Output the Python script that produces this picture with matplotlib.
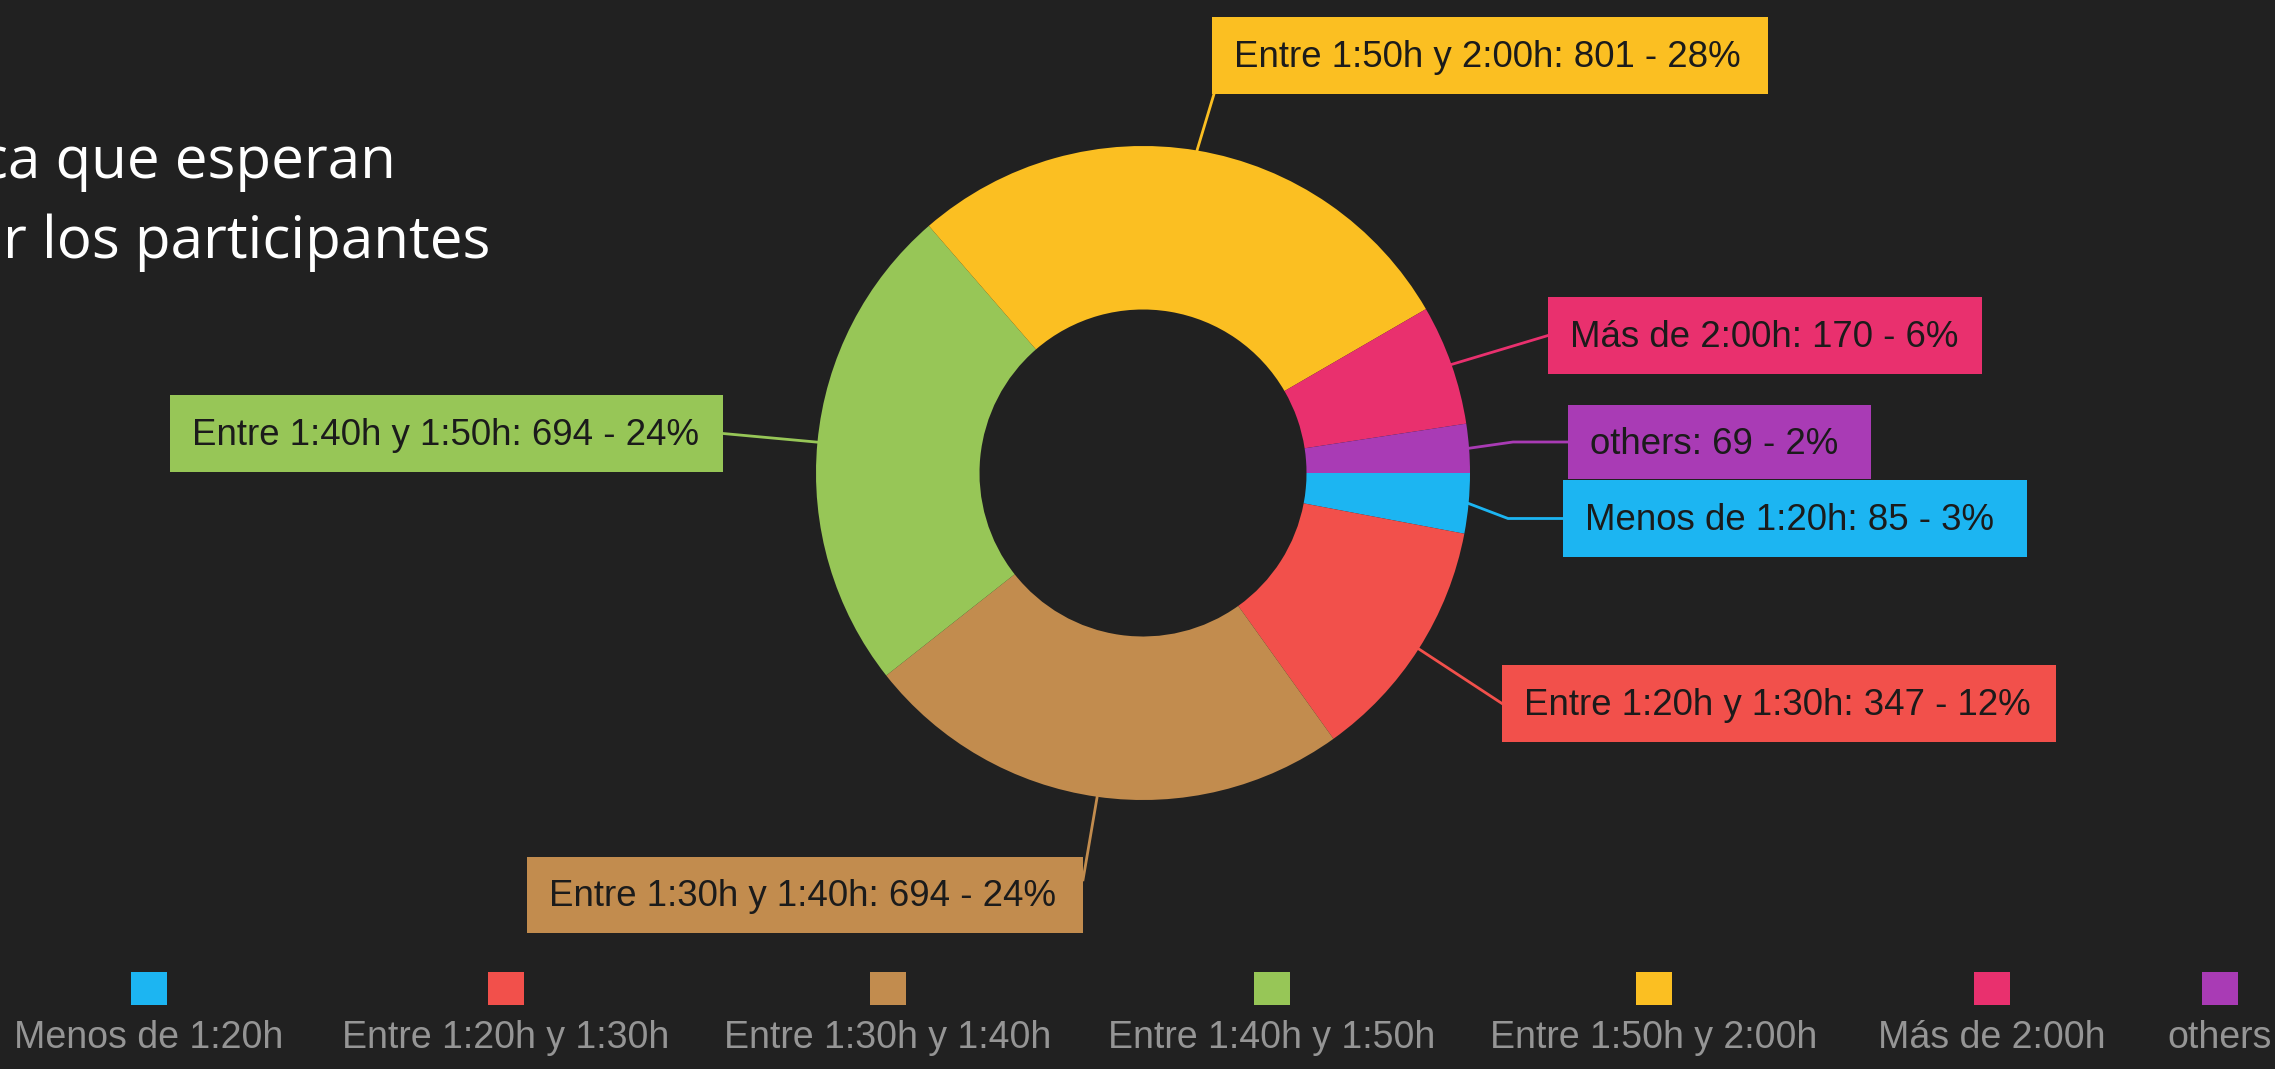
import matplotlib
matplotlib.use("Agg")
import matplotlib.pyplot as plt
from matplotlib.patches import Rectangle
import numpy as np

# Data
categories = ["Menos de 1:20h", "Entre 1:20h y 1:30h", "Entre 1:30h y 1:40h",
              "Entre 1:40h y 1:50h", "Entre 1:50h y 2:00h", "Más de 2:00h", "others"]
values = [85, 347, 694, 694, 801, 170, 69]
percents = ["3%", "12%", "24%", "24%", "28%", "6%", "2%"]
colors = ["#1cb5f2", "#f2504b", "#c28c4e", "#97c657", "#fbbf22", "#e9306e", "#a93bb5"]

W, H = 2275, 1069
BG = "#212121"
box_font = ["Liberation Sans Narrow", "Liberation Sans", "DejaVu Sans"]

# Label box layout (pixels): x, y, w, h
boxes = [
    (1563, 480, 464, 77),
    (1502, 665, 554, 77),
    (527, 857, 556, 76),
    (170, 395, 553, 77),
    (1212, 17, 556, 77),
    (1548, 297, 434, 77),
    (1568, 405, 303, 74),
]

fig = plt.figure(figsize=(W / 100, H / 100), dpi=100)
fig.patch.set_facecolor(BG)
ax = fig.add_axes([0, 0, 1, 1])
ax.set_facecolor(BG)

cx, cy, R = 1143, 473, 327
wedges, _ = ax.pie(values, colors=colors, startangle=0, counterclock=True,
                   center=(cx, cy), radius=R, frame=True,
                   wedgeprops=dict(width=R * 0.5, linewidth=0))
ax.set_xlim(0, W)
ax.set_ylim(H, 0)
ax.axis("off")

# Labels with leader lines
for i, w in enumerate(wedges):
    ang = np.deg2rad((w.theta1 + w.theta2) / 2)
    px = cx + R * np.cos(ang)
    py = cy + R * np.sin(ang)
    bx, by, bw, bh = boxes[i]
    ax.add_patch(Rectangle((bx, by), bw, bh, facecolor=colors[i], edgecolor="none", zorder=3))
    # attach point on the box
    if bx > cx:
        ex, ey = bx, by + bh / 2
    elif by > cy + R:
        ex, ey = bx + bw, by + bh * 0.3
    else:
        ex, ey = bx + bw, by + bh / 2
    if i == 4:
        ex, ey = bx + 2, by + bh
    if i in (0, 6):
        xs = [px, ex - 55, ex]
        ys = [py, ey, ey]
    else:
        xs = [px, ex]
        ys = [py, ey]
    ax.plot(xs, ys, color=colors[i], lw=2, zorder=2)
    label = f"{categories[i]}: {values[i]} - {percents[i]}"
    ax.text(bx + 22, by + bh / 2 + 2, label, fontsize=26.4, family=box_font,
            color="#1b1b1b", va="center", ha="left", zorder=4)

# Legend
leg_x = [149, 506, 888, 1272, 1654, 1992, 2220]
for i in range(len(categories)):
    ax.add_patch(Rectangle((leg_x[i] - 18, 972), 36, 33, facecolor=colors[i],
                           edgecolor="none"))
    ax.text(leg_x[i], 1038, categories[i], fontsize=27, family=box_font,
            color="#959595", ha="center", va="center")

# Title (cut off at the left edge, as in the original)
title_font = ["Open Sans", "DejaVu Sans"]
ax.text(396, 178, "ca que esperan", fontsize=42, family=title_font,
        color="white", ha="right", va="baseline")
ax.text(490, 258, "r los participantes", fontsize=42, family=title_font,
        color="white", ha="right", va="baseline")

fig.savefig("out.png", dpi=100, facecolor=BG)
